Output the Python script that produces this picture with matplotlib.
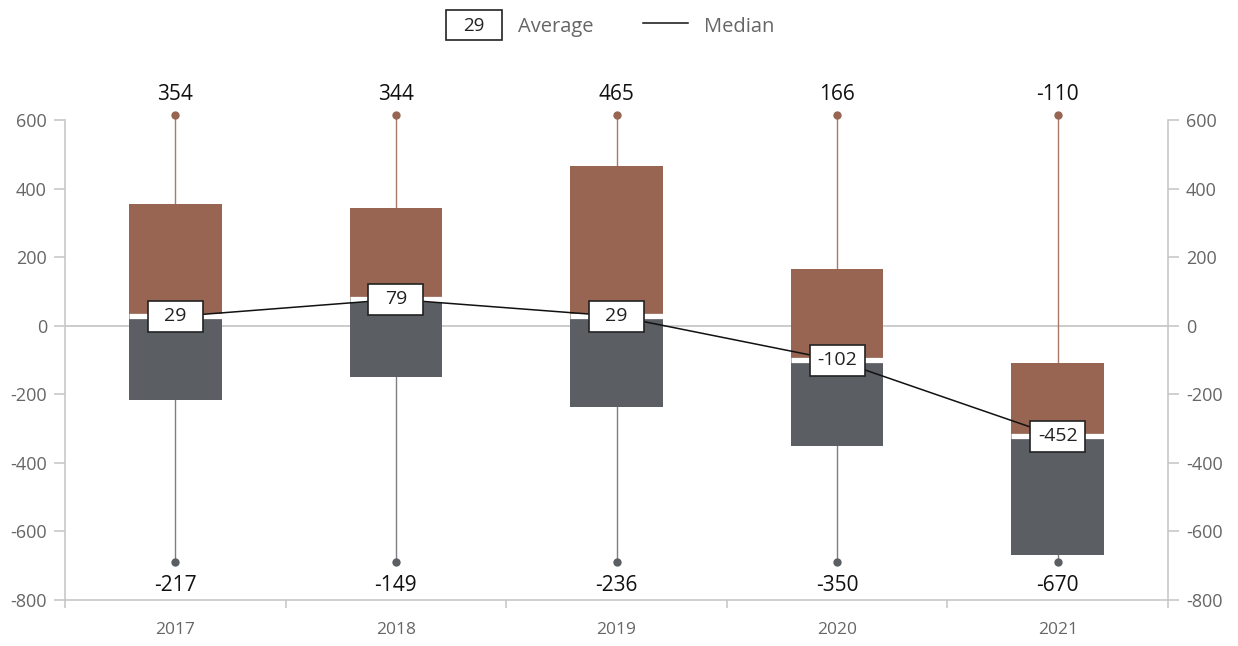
import matplotlib.pyplot as plt
from matplotlib.patches import Rectangle
from matplotlib.lines import Line2D

plt.rcParams['font.family'] = ['Open Sans', 'DejaVu Sans']
plt.rcParams['axes.unicode_minus'] = False

years = ["2017", "2018", "2019", "2020", "2021"]
q3 = [354, 344, 465, 166, -110]
q1 = [-217, -149, -236, -350, -670]
medians = [27, 77, 28, -101, -323]
averages = [29, 79, 29, -102, -452]
whisker_hi = [614, 614, 614, 614, 614]
whisker_lo = [-689, -689, -689, -689, -689]

brown = "#976552"
dark = "#5b5e62"
axis_grey = "#c8c8c8"
text_grey = "#666666"

fig = plt.figure(figsize=(12.38, 6.46), dpi=100)
ax = fig.add_axes([0.0525, 0.0712, 0.891, 0.743])
x = list(range(len(years)))
w = 0.42

# zero line
ax.axhline(0, color=axis_grey, lw=1.3, zorder=0)

for i in x:
    # whiskers
    ax.plot([i, i], [q3[i], whisker_hi[i]], color="#a87a69", lw=1.0, zorder=1, clip_on=False)
    ax.plot([i, i], [whisker_lo[i], q1[i]], color="#7d7f82", lw=1.0, zorder=1, clip_on=False)
    ax.plot(i, whisker_hi[i], "o", color=brown, ms=6, mec="none", clip_on=False, zorder=2)
    ax.plot(i, whisker_lo[i], "o", color=dark, ms=6, mec="none", clip_on=False, zorder=2)
    # box halves
    ax.bar(i, q3[i] - medians[i], bottom=medians[i], width=w, color=brown, zorder=2)
    ax.bar(i, medians[i] - q1[i], bottom=q1[i], width=w, color=dark, zorder=2)
    ax.plot([i - w / 2, i + w / 2], [medians[i], medians[i]], color="white", lw=3.8, zorder=3,
            solid_capstyle="butt")
    # labels above / below
    ax.annotate(str(q3[i]), (i, whisker_hi[i]), xytext=(0, 15), textcoords="offset points",
                ha="center", va="center", fontsize=15, color="#111111", annotation_clip=False)
    ax.annotate(str(q1[i]), (i, whisker_lo[i]), xytext=(0, -17), textcoords="offset points",
                ha="center", va="center", fontsize=15, color="#111111", annotation_clip=False)

# median line
ax.plot(x, medians, color="#111111", lw=1.1, zorder=4)

# average boxes
bw, bh = 0.25, 90
for i in x:
    ax.add_patch(Rectangle((i - bw / 2, medians[i] - bh / 2), bw, bh, facecolor="white",
                           edgecolor="#222222", lw=1.2, zorder=5))
    ax.text(i, medians[i], str(averages[i]), ha="center", va="center", fontsize=14,
            color="#222222", zorder=6)

ax.set_xlim(-0.5, 4.5)
ax.set_ylim(-800, 600)
ax.set_yticks(range(-800, 601, 200))
ax.set_xticks([-0.5, 0.5, 1.5, 2.5, 3.5, 4.5])
ax.set_xticklabels([])
ax.set_xticks(x, minor=True)
ax.set_xticklabels(years, minor=True)
ax.tick_params(axis="x", which="major", length=6, color=axis_grey, width=1.2)
ax.tick_params(axis="x", which="minor", length=0, pad=16, labelsize=12.5, labelcolor=text_grey)
ax.tick_params(axis="y", length=8, color=axis_grey, width=1.2, pad=5, labelsize=13,
               labelcolor=text_grey, right=True, labelright=True)
for side in ["left", "right", "bottom"]:
    ax.spines[side].set_color(axis_grey)
    ax.spines[side].set_linewidth(1.2)
ax.spines["top"].set_visible(False)

# legend
lx0, ly0 = 446 / 1238, 1 - 40 / 646
fig.patches.append(Rectangle((lx0, ly0), 56 / 1238, 30 / 646, transform=fig.transFigure,
                             facecolor="white", edgecolor="#222222", lw=1.2))
fig.text(474 / 1238, 1 - 26 / 646, "29", ha="center", va="center", fontsize=13.5, color="#222222")
fig.text(518 / 1238, 1 - 27 / 646, "Average", ha="left", va="center", fontsize=14.5, color=text_grey)
fig.lines.append(Line2D([643 / 1238, 688 / 1238], [1 - 23 / 646, 1 - 23 / 646],
                        transform=fig.transFigure, color="#111111", lw=1.1))
fig.text(704 / 1238, 1 - 27 / 646, "Median", ha="left", va="center", fontsize=14.5, color=text_grey)

fig.savefig("out.png", dpi=100)
